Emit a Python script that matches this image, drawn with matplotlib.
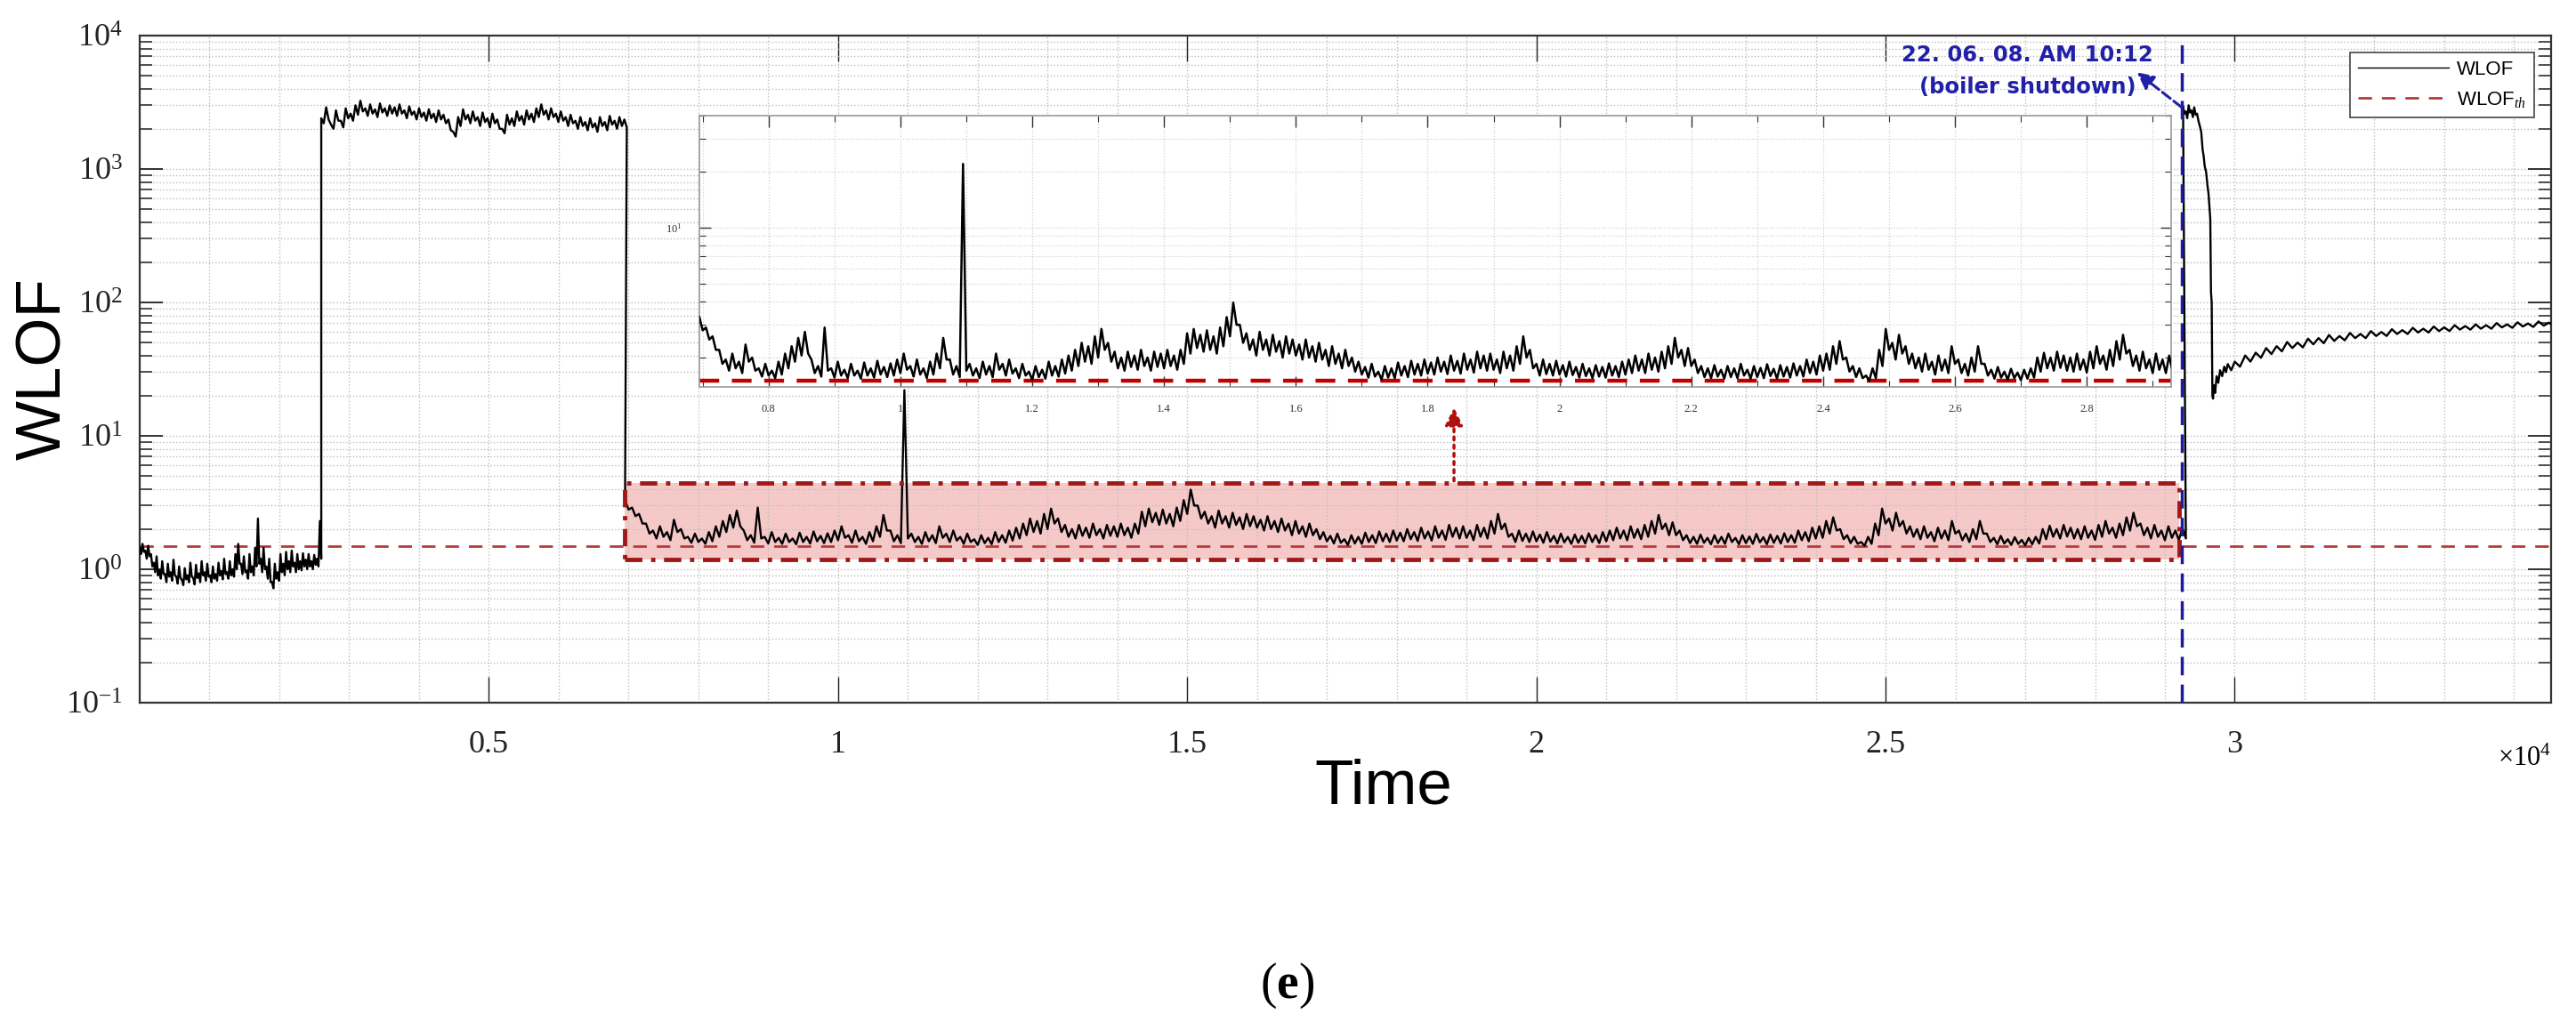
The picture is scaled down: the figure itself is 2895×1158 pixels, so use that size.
import numpy as np
import matplotlib.pyplot as plt
from matplotlib import ticker
from matplotlib.patches import Rectangle

plt.rcParams['font.family'] = ['Liberation Serif', 'DejaVu Serif']
plt.rcParams['mathtext.fontset'] = 'custom'
plt.rcParams['mathtext.rm'] = 'Liberation Serif'
plt.rcParams['mathtext.it'] = 'Liberation Serif:italic'
plt.rcParams['mathtext.bf'] = 'Liberation Serif:bold'

# ---- data ----
# each segment: upper (hi) and lower (lo) edge of the noisy trace
# segment 1: normal operation before the jump (t = 0 .. 2580)
seg1_t = (0, 2580)
seg1_hi = [1.45, 1.55, 1.38, 1.5, 1.3, 1.12, 1.25, 0.98, 1.15, 0.92,
           1.1, 0.95, 1.18, 0.88, 1.05, 0.83, 1.02, 0.9, 1.12, 0.86,
           1.08, 0.93, 1.15, 0.95, 1.1, 0.9, 1.05, 0.92, 1.12, 0.97,
           1.2, 0.95, 1.15, 1.0, 1.3, 1.55, 1.1, 1.25, 0.98, 1.3,
           1.05, 1.45, 2.4, 1.2, 1.45, 1.05, 1.2, 0.8, 1.1, 0.95,
           1.3, 1.1, 1.35, 1.15, 1.38, 1.12, 1.3, 1.15, 1.32, 1.18,
           1.3, 1.15, 1.28, 1.2, 2.3]
seg1_lo = [1.3, 1.35, 1.2, 1.25, 1.05, 0.95, 0.9, 0.85, 0.92, 0.8,
           0.88, 0.82, 0.9, 0.78, 0.86, 0.76, 0.84, 0.8, 0.88, 0.77,
           0.86, 0.8, 0.9, 0.82, 0.88, 0.8, 0.85, 0.82, 0.9, 0.84,
           0.92, 0.85, 0.9, 0.88, 1.0, 1.1, 0.92, 0.95, 0.85, 0.95,
           0.9, 1.05, 1.1, 0.95, 1.0, 0.85, 0.8, 0.72, 0.85, 0.82,
           0.95, 0.9, 1.0, 0.95, 1.05, 0.95, 1.0, 0.98, 1.05, 1.0,
           1.05, 1.0, 1.08, 1.05, 1.2]

# segment 2: high plateau (t = 2600 .. 6940)
seg2_t = (2600, 6940)
seg2_hi = [2400, 2900, 2150, 2750, 2300, 2850, 2600, 3000, 3250, 2850,
           3050, 2800, 3100, 2850, 3000, 2900, 3050, 2750, 2950, 2700,
           2850, 2650, 2800, 2600, 2750, 2550, 2350, 1900, 2450, 2800,
           2550, 2700, 2450, 2650, 2400, 2600, 2350, 2000, 2550, 2400,
           2700, 2500, 2750, 2600, 2850, 3050, 2750, 2850, 2600, 2700,
           2450, 2550, 2300, 2450, 2250, 2400, 2200, 2450, 2250, 2500,
           2300, 2450, 2350]
seg2_lo = [2200, 2350, 2000, 2300, 2050, 2400, 2300, 2550, 2700, 2500,
           2600, 2450, 2650, 2500, 2600, 2500, 2600, 2400, 2550, 2350,
           2450, 2300, 2400, 2250, 2350, 2200, 1950, 1750, 2100, 2350,
           2200, 2300, 2100, 2250, 2050, 2200, 2000, 1850, 2150, 2100,
           2300, 2150, 2350, 2250, 2450, 2550, 2350, 2450, 2250, 2300,
           2100, 2200, 2000, 2100, 1950, 2050, 1900, 2100, 1950, 2150,
           2000, 2100, 2050]

# segment 3: region shown in the inset (t = 6950 .. 29250)
seg3_t = (6950, 29250)
seg3_hi = [3.3, 2.9, 2.6, 2.2, 1.95, 2.1, 1.9, 2.35, 2.0, 1.75,
           1.85, 1.7, 1.9, 2.1, 2.3, 2.55, 2.75, 1.95, 1.8, 2.9,
           1.75, 1.9, 1.72, 1.85, 1.7, 1.88, 1.75, 1.92, 1.78, 1.86,
           1.95, 2.1, 1.8, 1.95, 1.75, 1.9, 2.1, 2.55, 1.95, 1.8,
           22.0, 1.85, 1.75, 1.9, 1.8, 2.1, 1.85, 1.95, 1.75, 1.85,
           1.68, 1.8, 1.72, 1.9, 1.8, 1.95, 2.05, 2.2, 2.4, 2.3,
           2.6, 2.85, 2.4, 2.15, 2.0, 2.15, 2.05, 2.2, 2.0, 2.15,
           2.1, 2.2, 2.05, 2.2, 2.7, 2.85, 2.65, 2.8, 2.6, 2.9,
           3.3, 3.95, 3.0, 2.7, 2.5, 2.75, 2.5, 2.65, 2.45, 2.6,
           2.5, 2.35, 2.5, 2.3, 2.4, 2.2, 2.3, 2.1, 2.2, 2.0,
           1.9, 1.78, 1.85, 1.68, 1.8, 1.75, 1.88, 1.8, 1.92, 1.85,
           1.95, 1.88, 2.0, 1.9, 2.05, 1.92, 2.1, 1.95, 2.15, 2.05,
           2.1, 1.95, 2.15, 2.05, 2.3, 2.6, 2.2, 1.85, 1.95, 1.85,
           1.92, 1.82, 1.9, 1.78, 1.85, 1.75, 1.82, 1.78, 1.86, 1.8,
           1.9, 1.95, 2.05, 1.95, 2.1, 2.0, 2.15, 2.3, 2.55, 2.2,
           2.25, 1.95, 1.8, 1.75, 1.82, 1.72, 1.8, 1.75, 1.85, 1.72,
           1.8, 1.76, 1.84, 1.74, 1.82, 1.78, 1.86, 1.8, 1.95, 1.9,
           2.05, 2.1, 2.3, 2.45, 2.0, 1.8, 1.75, 1.6, 1.75, 2.2,
           2.85, 2.4, 2.65, 2.3, 2.1, 2.0, 2.1, 1.9, 2.05, 1.95,
           2.3, 1.95, 1.85, 2.0, 2.3, 1.85, 1.72, 1.78, 1.68, 1.74,
           1.66, 1.72, 1.75, 2.0, 2.12, 2.0, 2.15, 2.05, 2.0, 2.1,
           1.95, 2.15, 2.3, 2.05, 2.2, 2.45, 2.65, 2.2, 2.05, 2.15,
           1.95, 2.1, 1.95, 2.05]
seg3_lo = [2.8, 2.5, 2.2, 1.85, 1.7, 1.75, 1.65, 1.9, 1.7, 1.58,
           1.6, 1.55, 1.62, 1.75, 1.9, 2.05, 2.1, 1.65, 1.58, 1.7,
           1.56, 1.6, 1.55, 1.6, 1.54, 1.6, 1.56, 1.62, 1.57, 1.6,
           1.65, 1.72, 1.58, 1.62, 1.55, 1.62, 1.75, 1.95, 1.62, 1.57,
           1.7, 1.6, 1.55, 1.62, 1.57, 1.72, 1.6, 1.64, 1.55, 1.6,
           1.52, 1.57, 1.54, 1.6, 1.58, 1.64, 1.7, 1.8, 1.9, 1.85,
           2.0, 2.2, 1.9, 1.75, 1.7, 1.78, 1.72, 1.8, 1.7, 1.78,
           1.75, 1.8, 1.72, 1.85, 2.1, 2.25, 2.15, 2.2, 2.1, 2.3,
           2.6, 3.0, 2.4, 2.2, 2.05, 2.2, 2.05, 2.15, 2.0, 2.1,
           2.05, 1.95, 2.0, 1.9, 1.95, 1.8, 1.85, 1.75, 1.8, 1.68,
           1.62, 1.56, 1.58, 1.52, 1.56, 1.55, 1.6, 1.57, 1.62, 1.6,
           1.64, 1.62, 1.68, 1.63, 1.7, 1.64, 1.72, 1.66, 1.75, 1.7,
           1.72, 1.65, 1.75, 1.7, 1.85, 2.0, 1.75, 1.6, 1.63, 1.6,
           1.62, 1.58, 1.61, 1.56, 1.59, 1.55, 1.58, 1.56, 1.6, 1.57,
           1.62, 1.65, 1.7, 1.65, 1.72, 1.68, 1.75, 1.85, 2.0, 1.8,
           1.8, 1.65, 1.57, 1.55, 1.58, 1.54, 1.57, 1.55, 1.6, 1.54,
           1.57, 1.55, 1.59, 1.54, 1.58, 1.56, 1.6, 1.58, 1.65, 1.62,
           1.7, 1.72, 1.85, 1.95, 1.68, 1.57, 1.55, 1.5, 1.55, 1.8,
           2.2, 1.95, 2.1, 1.85, 1.75, 1.68, 1.72, 1.62, 1.7, 1.65,
           1.85, 1.65, 1.6, 1.68, 1.85, 1.6, 1.54, 1.56, 1.52, 1.55,
           1.51, 1.54, 1.56, 1.68, 1.75, 1.7, 1.76, 1.7, 1.68, 1.72,
           1.66, 1.75, 1.85, 1.72, 1.8, 1.95, 2.1, 1.8, 1.7, 1.75,
           1.65, 1.72, 1.65, 1.7]

# segment 4: after boiler shutdown
seg4_t = [29260, 29300, 29340, 29380, 29420, 29460, 29500, 29540, 29570, 29610,
          29640, 29660, 29680, 29700, 29740, 29790, 29850, 29900, 30000, 30150,
          30300, 30450, 30600, 30750, 30900, 31050, 31200, 31350, 31500, 31650,
          31800, 31950, 32100, 32250, 32400, 32550, 32700, 32850, 33000, 33150,
          33300, 33450, 33600, 33750, 33900, 34050, 34200, 34350, 34500]
seg4_hi = [2950, 2700, 3000, 2750, 2900, 2600, 2100, 1400, 1050, 750,
           500, 120, 20, 24, 28, 31, 33, 34.5, 36, 40,
           42, 45.5, 47, 50.5, 50, 53.5, 54, 57, 56, 59,
           58, 61, 60, 63, 62, 64.5, 63.5, 66, 65, 67.5,
           66.5, 68.5, 67.5, 70, 68.5, 71, 69.5, 72, 70.5]
seg4_lo = [2600, 2400, 2650, 2450, 2550, 2300, 1900, 1250, 950, 650,
           420, 100, 19, 21, 25, 28, 30, 31, 33, 36,
           38.5, 41, 43, 45.5, 46, 48.5, 49.5, 51.5, 52, 54,
           54, 56, 56, 58, 58, 59.5, 59.5, 61, 61, 62.5,
           62.5, 63.5, 63.5, 65, 64.5, 66, 65.5, 67, 66]

wlof_th = 1.5
shutdown_t = 29240
box_t = (6950, 29200)
box_y = (1.19, 4.4)
inset_arrow_t = 18820
inset_arrow_y = (4.4, 17.0)


def zigzag(t, hi, lo):
    # alternate upper and lower readings so the trace looks like the noisy band
    t = np.asarray(t, dtype=float)
    mid = np.append((t[:-1] + t[1:]) / 2, t[-1] + (t[-1] - t[-2]) / 2)
    return (np.column_stack([t, mid]).ravel(),
            np.column_stack([hi, lo]).ravel())


t1, w1 = zigzag(np.linspace(*seg1_t, len(seg1_hi)), seg1_hi, seg1_lo)
t2, w2 = zigzag(np.linspace(*seg2_t, len(seg2_hi)), seg2_hi, seg2_lo)
t3, w3 = zigzag(np.linspace(*seg3_t, len(seg3_hi)), seg3_hi, seg3_lo)
t4, w4 = zigzag(seg4_t, seg4_hi, seg4_lo)
t_all = np.concatenate([t1, t2, t3, t4])
w_all = np.concatenate([w1, w2, w3, w4])

W, H = 2895, 1158
fig = plt.figure(figsize=(W / 100, H / 100), dpi=100)
ax = fig.add_axes([157 / W, 1 - 790 / H, (2867 - 157) / W, 750 / H])

grid_kw = dict(color='#bdbdbd', linestyle=':', linewidth=1.0)

ax.add_patch(Rectangle((box_t[0], box_y[0]), box_t[1] - box_t[0], box_y[1] - box_y[0],
                       facecolor='#f6c9c9', edgecolor='none', zorder=1))
ax.plot(t_all, w_all, color='k', lw=1.7, label='WLOF', zorder=3)
ax.axhline(wlof_th, color='#b83a3a', lw=2.0, ls=(0, (5.5, 4)), label='WLOF$_{th}$', zorder=2)
ax.add_patch(Rectangle((box_t[0], box_y[0]), box_t[1] - box_t[0], box_y[1] - box_y[0],
                       facecolor='none', edgecolor='#a01818', lw=3.5,
                       ls=(0, (4, 2, 1, 2)), zorder=4))
ax.axvline(shutdown_t, color='#1c1c9c', lw=2.5, ls=(0, (6, 3)), zorder=5)

# red dotted arrow from the box to the inset
ax.annotate('', xy=(inset_arrow_t, inset_arrow_y[1]), xytext=(inset_arrow_t, inset_arrow_y[0]),
            arrowprops=dict(arrowstyle='-|>', color='#b01010', lw=2.5, ls=':',
                            mutation_scale=30), zorder=6)

# shutdown annotation
blue = '#2020a8'
ax.annotate('', xy=(28600, 5300), xytext=(shutdown_t, 2900),
            arrowprops=dict(arrowstyle='-|>', color=blue, lw=2.2, ls='--',
                            mutation_scale=28, shrinkA=0, shrinkB=0), zorder=7)
ax.text(27030, 7100, '22. 06. 08. AM 10:12', color=blue, fontsize=17.5,
        fontweight='bold', family='DejaVu Sans', ha='center', va='center', zorder=7)
ax.text(27030, 4100, '(boiler shutdown)', color=blue, fontsize=17.5,
        fontweight='bold', family='DejaVu Sans', ha='center', va='center', zorder=7)

ax.set_yscale('log')
ax.set_ylim(0.1, 1e4)
ax.set_xlim(0, 34530)
ax.xaxis.set_major_locator(ticker.FixedLocator([5000, 10000, 15000, 20000, 25000, 30000]))
ax.xaxis.set_major_formatter(ticker.FuncFormatter(lambda v, p: f'{v / 1e4:g}'))
ax.xaxis.set_minor_locator(ticker.MultipleLocator(1000))
ax.yaxis.set_major_locator(ticker.LogLocator(base=10, numticks=10))
ax.yaxis.set_minor_locator(ticker.LogLocator(base=10, subs=np.arange(2, 10), numticks=20))
ax.yaxis.set_minor_formatter(ticker.NullFormatter())
ax.grid(True, which='both', **grid_kw)
ax.tick_params(which='both', direction='in', top=True, right=True, colors='#222222')
ax.tick_params(axis='y', which='major', length=19, width=1.3, labelsize=26, pad=14)
ax.tick_params(axis='y', which='minor', length=10, width=1.1)
ax.tick_params(axis='x', which='major', length=21, width=1.0, labelsize=26, pad=22)
ax.tick_params(axis='x', which='minor', length=0)
for s in ax.spines.values():
    s.set_color('#333333')
    s.set_linewidth(1.6)

leg = ax.legend(loc='upper right', bbox_to_anchor=(2848 / W, 1 - 59 / H),
                bbox_transform=fig.transFigure, borderaxespad=0, fancybox=False,
                edgecolor='#444444', framealpha=1, handlelength=4.6,
                labelspacing=0.55, borderpad=0.4, handletextpad=0.4,
                prop={'family': 'Liberation Sans', 'size': 16})
leg.get_frame().set_linewidth(1.2)
leg.get_lines()[0].set_linewidth(1.0)

fig.text(50 / W, 1 - 415 / H, 'WLOF', family='Liberation Sans', fontsize=51,
         rotation=90, ha='center', va='center')
fig.text(1555 / W, 1 - 886 / H, 'Time', family='Liberation Sans', fontsize=51,
         ha='center', va='center')
fig.text(2867 / W, 1 - 853 / H, r'$\times10^{4}$', fontsize=22, ha='right', va='center')
fig.text(1447 / W, 1 - 1108 / H, r'$(\mathbf{e})$', fontsize=40, ha='center', va='center')

# ---- inset: enlarged view of the boxed region ----
axin = fig.add_axes([786 / W, 1 - 435 / H, (2440 - 786) / W, 305 / H])
axin.plot(t3, w3, color='k', lw=1.8, zorder=3)
axin.axhline(wlof_th, color='#c00000', lw=3.2, ls=(0, (5, 3.2)), zorder=2)
axin.set_yscale('log')
axin.set_ylim(1.39, 40)
axin.set_xlim(6950, 29280)
axin.xaxis.set_major_locator(ticker.MultipleLocator(2000))
axin.xaxis.set_major_formatter(ticker.FuncFormatter(lambda v, p: f'{v / 1e4:g}'))
axin.xaxis.set_minor_locator(ticker.MultipleLocator(1000))
axin.yaxis.set_major_locator(ticker.LogLocator(base=10, numticks=10))
axin.yaxis.set_minor_locator(ticker.LogLocator(base=10, subs=np.arange(2, 10), numticks=20))
axin.yaxis.set_minor_formatter(ticker.NullFormatter())
axin.grid(True, which='both', color='#d0d0d0', linestyle=':', linewidth=0.9)
axin.tick_params(which='both', direction='in', top=True, right=True, colors='#333333',
                 labelsize=9)
axin.tick_params(which='major', length=9, width=1.0, pad=14)
axin.tick_params(which='minor', length=5, width=0.8)
for s in axin.spines.values():
    s.set_color('#9a9a9a')
    s.set_linewidth(1.2)

fig.savefig('out.png', dpi=100)
